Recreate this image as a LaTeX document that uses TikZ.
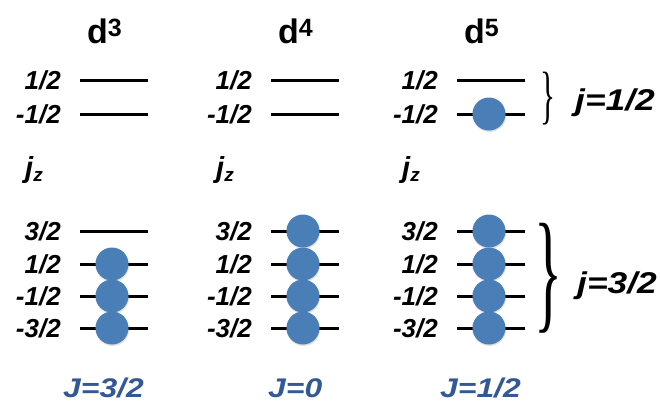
\documentclass[tikz,border=0pt]{standalone}
\usepackage{fontspec}
\setmainfont{Liberation Sans}
\newfontfamily\bracefont{Liberation Serif}
\usetikzlibrary{calc,shadows}
\definecolor{ballblue}{RGB}{74,126,182}
\definecolor{jblue}{RGB}{52,88,150}
\newcommand{\widen}[1]{\scalebox{1.18}[1]{#1}}
\tikzset{
    level/.style={line width=3pt},
    elec/.style={circle, fill=ballblue, minimum size=33pt, inner sep=0pt,
        drop shadow={shadow xshift=0.6pt, shadow yshift=-1.4pt, opacity=0.25}},
    mlabel/.style={anchor=east, inner sep=0pt, font=\fontsize{26}{26}\selectfont\bfseries\itshape},
    dlabel/.style={anchor=base west, inner sep=0pt, font=\fontsize{34}{34}\selectfont\bfseries},
    jlabel/.style={anchor=base west, inner sep=0pt, font=\fontsize{30}{30}\selectfont\bfseries\itshape},
    Jlabel/.style={anchor=base west, inner sep=0pt, text=jblue, font=\fontsize{27}{27}\selectfont\bfseries\itshape},
    bracket/.style={anchor=west, inner sep=0pt}
}
\begin{document}
\begin{tikzpicture}[x=1pt, y=1pt]

    \useasboundingbox (0,0) rectangle (660,-408);

    %% three d shells, x = left end of the levels

    \foreach \c/\x/\n in {1/80/3, 2/271/4, 3/457/5} {

        % Shell label
        \node [dlabel] (d\c) at (\x+7, -43) {d{\fontsize{25}{25}\selectfont\raisebox{7pt}{\n}}};

        % j = 1/2 levels
        \foreach \k/\y/\m in {a/80/{1/2}, b/114/{-1/2}} {
            \coordinate (c\c\k-L) at (\x, -\y);
            \coordinate (c\c\k-R) at (\x+68, -\y);
            \draw [level] (c\c\k-L) -- (c\c\k-R);
            \node [mlabel] (m\c\k) at (\x-19, -\y) {\m};
        }

        % j_z
        \node [mlabel, anchor=base west, font=\fontsize{29}{29}\selectfont\bfseries\itshape] (jz\c) at (\x-55, -177)
            {j\raisebox{-4pt}{\fontsize{19}{19}\selectfont z}};

        % j = 3/2 levels
        \foreach \k/\y/\m in {c/231/{3/2}, d/264/{1/2}, e/296/{-1/2}, f/328/{-3/2}} {
            \coordinate (c\c\k-L) at (\x, -\y);
            \coordinate (c\c\k-R) at (\x+68, -\y);
            \draw [level] (c\c\k-L) -- (c\c\k-R);
            \node [mlabel] (m\c\k) at (\x-19, -\y) {\m};
        }
    }

    % Electrons
    \foreach \c/\k in {1/d, 1/e, 1/f, 2/c, 2/d, 2/e, 2/f, 3/b, 3/c, 3/d, 3/e, 3/f}
        \node [elec] (e\c\k) at ($(c\c\k-L)!0.47!(c\c\k-R)$) {};

    % Braces
    \node [bracket] (br1) at (540, -98.5) {\resizebox*{15pt}{53pt}{\bracefont\}}};
    \node [jlabel] (j1) at (575, -110) {\widen{j=1/2}};
    \node [bracket] (br2) at (534, -278) {\resizebox*{28pt}{110pt}{\bracefont\}}};
    \node [jlabel] (j2) at (577, -293) {\widen{j=3/2}};

    % Total J
    \node [Jlabel] (J1) at (63, -397) {\widen{J=3/2}};
    \node [Jlabel] (J2) at (268, -397) {\widen{J=0}};
    \node [Jlabel] (J3) at (440, -397) {\widen{J=1/2}};

\end{tikzpicture}
\end{document}
